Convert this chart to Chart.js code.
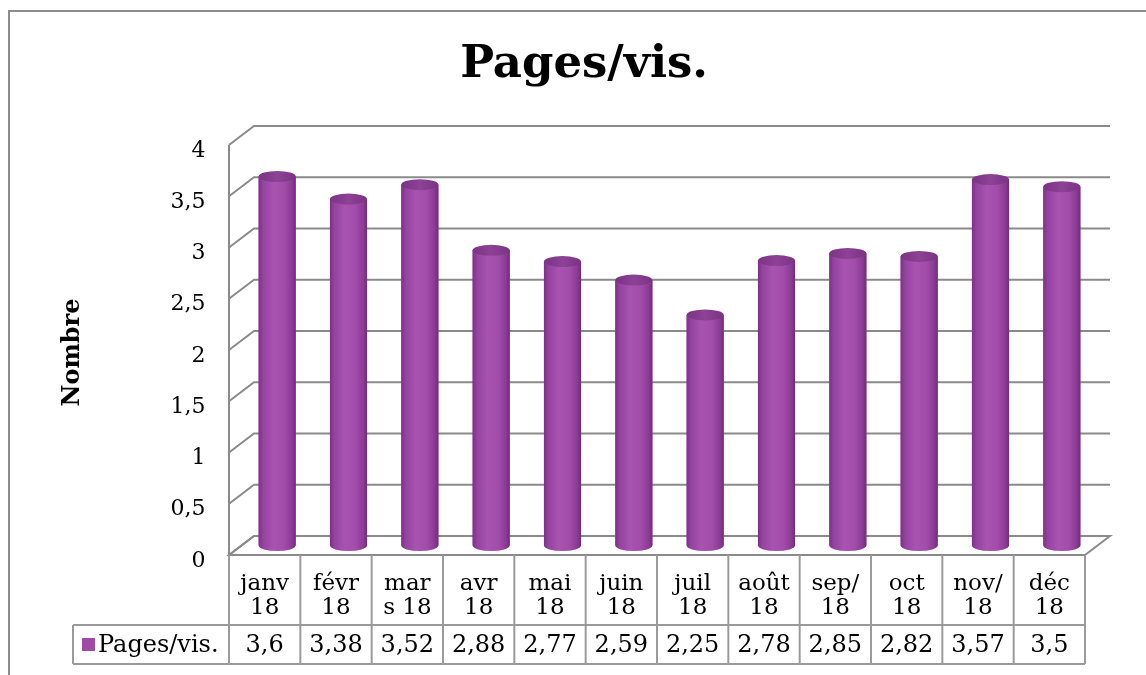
<!DOCTYPE html>
<html>
<head>
<meta charset="utf-8">
<script src="https://cdn.jsdelivr.net/npm/chart.js@4.4.1/dist/chart.umd.min.js"></script>
<style>
  html, body { margin: 0; padding: 0; background: #fff; }
  #wrap { width: 1146px; height: 675px; }
</style>
</head>
<body>
<div id="wrap"><canvas id="chart" width="1146" height="675"></canvas></div>
<script>
// data
const categories = [
    ['janv', '18'], ['févr', '18'], ['mar', 's 18'], ['avr', '18'],
    ['mai', '18'], ['juin', '18'], ['juil', '18'], ['août', '18'],
    ['sep/', '18'], ['oct', '18'], ['nov/', '18'], ['déc', '18']
];
const seriesName = 'Pages/vis.';
const pagesPerVisit = [3.6, 3.38, 3.52, 2.88, 2.77, 2.59, 2.25, 2.78, 2.85, 2.82, 3.57, 3.5];
const yMin = 0;
const yMax = 4;
const yStep = 0.5;

const serif = '"DejaVu Serif", "Liberation Serif", serif';
const barColor = '#a04aa8';
const lineColor = '#8a8a8a';
const depth = { x: 12.5, y: 9.5 };   // half depth of the 3D box (front -> middle)

const toComma = v => String(v).replace('.', ',');

// walls, floor and gridlines of the 3D box, drawn behind the bars
const boxPlugin = {
    id: 'box3d',
    beforeDatasetsDraw(chart) {
        const { ctx, chartArea: a, scales: { y } } = chart;
        const dx = depth.x, dy = depth.y;
        ctx.save();
        ctx.strokeStyle = lineColor;
        ctx.lineWidth = 2;
        // floor
        const y0 = y.getPixelForValue(yMin);
        ctx.beginPath();
        ctx.moveTo(a.left - dx, y0 + dy);
        ctx.lineTo(a.left + dx, y0 - dy);
        ctx.lineTo(a.right + dx, y0 - dy);
        ctx.lineTo(a.right - dx, y0 + dy);
        ctx.closePath();
        ctx.stroke();
        // gridlines on side wall + back wall
        y.ticks.forEach(t => {
            const py = y.getPixelForValue(t.value);
            ctx.beginPath();
            ctx.moveTo(a.left - dx, py + dy);
            ctx.lineTo(a.left + dx, py - dy);
            ctx.lineTo(a.right + dx, py - dy);
            ctx.stroke();
        });
        // front edge of side wall
        ctx.beginPath();
        ctx.moveTo(a.left - dx, y.getPixelForValue(yMax) + dy);
        ctx.lineTo(a.left - dx, y0 + dy);
        ctx.stroke();
        ctx.restore();
    },
    afterDatasetsDraw(chart) {
        // turn the flat bars into cylinders
        const { ctx } = chart;
        const meta = chart.getDatasetMeta(0);
        ctx.save();
        meta.data.forEach(bar => {
            const { x, y, base, width } = bar.getProps(['x', 'y', 'base', 'width'], true);
            const l = x - width / 2, r = x + width / 2;
            const ry = 5.5;
            const grad = ctx.createLinearGradient(l, 0, r, 0);
            grad.addColorStop(0, '#7c3185');
            grad.addColorStop(0.12, '#9443a0');
            grad.addColorStop(0.4, '#a853b0');
            grad.addColorStop(0.68, '#a34dab');
            grad.addColorStop(0.9, '#8b3b94');
            grad.addColorStop(1, '#722a7a');
            ctx.fillStyle = grad;
            ctx.beginPath();
            ctx.moveTo(l, y);
            ctx.lineTo(l, base);
            ctx.ellipse(x, base, width / 2, ry, 0, Math.PI, 0, true);
            ctx.lineTo(r, y);
            ctx.closePath();
            ctx.fill();
            const top = ctx.createLinearGradient(l, 0, r, 0);
            top.addColorStop(0, '#7b3384');
            top.addColorStop(0.5, '#8d4295');
            top.addColorStop(1, '#7b3384');
            ctx.fillStyle = top;
            ctx.beginPath();
            ctx.ellipse(x, y, width / 2, ry, 0, 0, Math.PI * 2);
            ctx.fill();
        });
        ctx.restore();
    },
    afterDraw(chart) {
        const { ctx, chartArea: a, scales: { x, y } } = chart;
        const dx = depth.x, dy = depth.y;
        const colW = x.width / categories.length;
        const top = y.getPixelForValue(yMin) + dy;
        const mid = top + 70;
        const bottom = mid + 39;
        const legendLeft = 73;
        ctx.save();
        ctx.strokeStyle = '#9a9a9a';
        ctx.lineWidth = 2;
        // column lines
        for (let i = 0; i <= categories.length; i++) {
            const cx = a.left - dx + i * colW;
            ctx.beginPath();
            ctx.moveTo(cx, top);
            ctx.lineTo(cx, bottom);
            ctx.stroke();
        }
        ctx.beginPath();
        ctx.moveTo(legendLeft, mid);
        ctx.lineTo(a.right - dx, mid);
        ctx.moveTo(legendLeft, bottom);
        ctx.lineTo(a.right - dx, bottom);
        ctx.moveTo(legendLeft, mid);
        ctx.lineTo(legendLeft, bottom);
        ctx.stroke();

        // values row
        ctx.fillStyle = '#000';
        ctx.font = '24px ' + serif;
        ctx.textAlign = 'center';
        ctx.textBaseline = 'middle';
        pagesPerVisit.forEach((v, i) => {
            ctx.fillText(toComma(v), x.getPixelForValue(i) - dx, (mid + bottom) / 2 + 1);
        });
        // legend key
        ctx.fillStyle = barColor;
        ctx.fillRect(82, 638, 13, 13);
        ctx.fillStyle = '#000';
        ctx.textAlign = 'left';
        ctx.fillText(seriesName, 98, (mid + bottom) / 2 + 1);

        // outer frame (cropped on right and bottom)
        ctx.strokeStyle = '#8c8c8c';
        ctx.lineWidth = 2;
        ctx.beginPath();
        ctx.moveTo(9, 675);
        ctx.lineTo(9, 11);
        ctx.lineTo(1146, 11);
        ctx.stroke();
        ctx.restore();
    }
};

const ctx = document.getElementById('chart').getContext('2d');
new Chart(ctx, {
    type: 'bar',
    data: {
        labels: categories,
        datasets: [{
            label: seriesName,
            data: pagesPerVisit,
            backgroundColor: barColor,
            borderWidth: 0,
            categoryPercentage: 1,
            barPercentage: 0.52
        }]
    },
    options: {
        responsive: false,
        animation: false,
        layout: { padding: { left: 55, right: 48.5, top: 0, bottom: 0 } },
        plugins: {
            legend: { display: false },
            tooltip: { enabled: false },
            title: {
                display: true,
                // leading space nudges the centred title right, as in the original
                text: ' Pages/vis.',
                color: '#000',
                font: { family: serif, size: 45, weight: 'bold', lineHeight: 1.2 },
                padding: { top: 38, bottom: 43.5 }
            }
        },
        scales: {
            x: {
                grid: { display: false, drawTicks: false },
                border: { display: false },
                ticks: {
                    color: '#000',
                    font: { family: serif, size: 23, lineHeight: 1.05 },
                    padding: 26,
                    labelOffset: -depth.x,
                    maxRotation: 0,
                    autoSkip: false
                },
                afterFit: scale => { scale.height = 129.5; }
            },
            y: {
                min: yMin,
                max: yMax,
                grid: { display: false, drawTicks: false },
                border: { display: false },
                ticks: {
                    stepSize: yStep,
                    color: '#000',
                    font: { family: serif, size: 22 },
                    padding: 36,
                    labelOffset: depth.y + 6,
                    callback: v => toComma(v)
                },
                title: {
                    display: true,
                    text: 'Nombre\u2003',
                    color: '#000',
                    font: { family: serif, size: 24, weight: 'bold', lineHeight: 1.2 },
                    padding: 3
                },
                afterFit: scale => { scale.width = 186.5; }
            }
        }
    },
    plugins: [boxPlugin]
});
</script>
</body>
</html>
